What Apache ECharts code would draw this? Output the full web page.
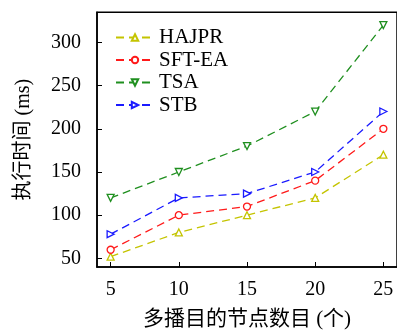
<!DOCTYPE html>
<html><head><meta charset="utf-8">
<script src="https://cdn.jsdelivr.net/npm/echarts@6/dist/echarts.min.js"></script>
<style>html,body{margin:0;padding:0;background:#fff}#c{width:397px;height:335px}</style>
</head><body><div id="c"></div>
<script>
const xValues = [5, 10, 15, 20, 25];
const xTicks = [5, 10, 15, 20, 25];
const yTicks = [50, 100, 150, 200, 250, 300];
const seriesNames = ['HAJPR', 'SFT-EA', 'TSA', 'STB'];
const hajpr = [52, 80, 100, 120, 170];
const sftea = [60, 100, 110, 140, 200];
const tsa = [120, 150, 180, 220, 320];
const stb = [78, 120, 125, 150, 220];

const serif = '"Liberation Serif", "Noto Sans CJK SC", serif';
const cjk = '"Liberation Serif", "Noto Sans CJK SC", serif';

function mk(name, data, color, symbol, rot, size) {
  return {
    name, type: 'line',
    data: xValues.map((x, i) => [x, data[i]]),
    symbol, symbolRotate: rot, symbolSize: size,
    showSymbol: true,
    lineStyle: { color, width: 1.3, type: [8, 5] },
    itemStyle: { color: '#fff', borderColor: color, borderWidth: 1.3 },
    emphasis: { disabled: true },
    animation: false
  };
}

const chart = echarts.init(document.getElementById('c'), null, { renderer: 'canvas' });
chart.setOption({
  backgroundColor: '#fff',
  animation: false,
  grid: { left: 97, top: 12.2, width: 303, height: 257.2, show: true, borderColor: '#000', borderWidth: 1.5, containLabel: false },
  legend: {
    orient: 'vertical', left: 110, top: 22,
    itemWidth: 38, itemHeight: 8, itemGap: 1.5,
    textStyle: { fontFamily: serif, fontSize: 21, color: '#000', lineHeight: 21 },
    data: seriesNames
  },
  xAxis: {
    type: 'value', min: 4, max: 26,
    axisLine: { show: true, lineStyle: { color: '#000', width: 1.5 } },
    axisTick: { show: true, inside: true, length: 5, customValues: xTicks, lineStyle: { color: '#000', width: 1 } },
    axisLabel: { customValues: xTicks, margin: 13, fontFamily: serif, fontSize: 20, color: '#000' },
    splitLine: { show: false },
    name: '多播目的节点数目 (个)', nameLocation: 'middle', nameGap: 42,
    nameTextStyle: { fontFamily: cjk, fontSize: 21, color: '#000' }
  },
  yAxis: {
    type: 'value', min: 40, max: 335,
    axisLine: { show: true, lineStyle: { color: '#000', width: 1.5 } },
    axisTick: { show: true, inside: true, length: 5, customValues: yTicks, lineStyle: { color: '#000', width: 1 } },
    axisLabel: { customValues: yTicks, margin: 16, fontFamily: serif, fontSize: 20, color: '#000' },
    splitLine: { show: false },
    name: '执行时间 (ms)', nameLocation: 'middle', nameGap: 63, nameRotate: 90,
    nameTextStyle: { fontFamily: cjk, fontSize: 20, color: '#000' }
  },
  series: [
    mk('HAJPR', hajpr, '#c4c400', 'triangle', 0, 7),
    mk('SFT-EA', sftea, '#ff1a1a', 'circle', 0, 7),
    mk('TSA', tsa, '#1f8f1f', 'triangle', 180, 7),
    mk('STB', stb, '#1a1aff', 'triangle', -90, 7)
  ]
});
</script></body></html>
